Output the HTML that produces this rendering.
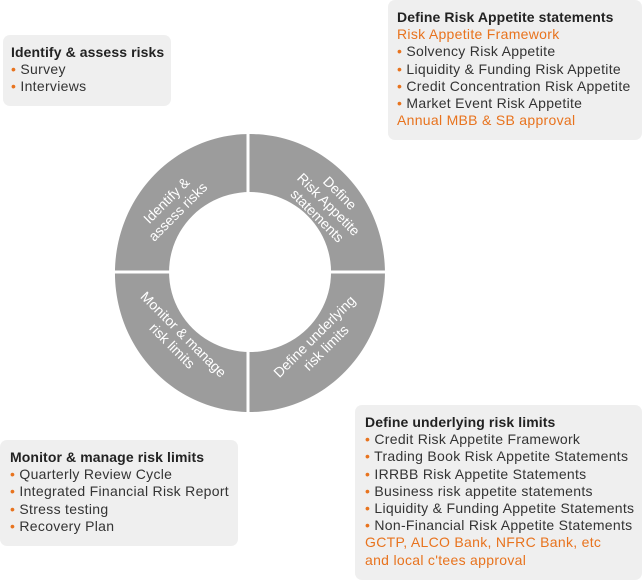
<!DOCTYPE html>
<html><head><meta charset="utf-8"><style>
body{margin:0;width:642px;height:580px;background:#fff;position:relative;overflow:hidden;font-family:"Liberation Sans",sans-serif;}
.box{position:absolute;background:#efefef;border-radius:7px;font-size:14px;letter-spacing:0.3px;line-height:17.2px;color:#333;white-space:nowrap;box-sizing:border-box;}
.box b{font-weight:bold;color:#222;letter-spacing:0.1px;}
.o{color:#e8731e;}
.d{color:#e8731e;}
</style></head><body>
<div class="box" style="left:3px;top:35px;width:168px;height:71px;padding:9px 0 0 8px;"><b>Identify &amp; assess risks</b><br><span class="d">•</span> Survey<br><span class="d">•</span> Interviews</div>
<div class="box" style="left:388px;top:0;width:254px;height:140px;padding:9px 0 0 9px;"><b>Define Risk Appetite statements</b><br><span class="o">Risk Appetite Framework</span><br><span class="d">•</span> Solvency Risk Appetite<br><span class="d">•</span> Liquidity &amp; Funding Risk Appetite<br><span class="d">•</span> Credit Concentration Risk Appetite<br><span class="d">•</span> Market Event Risk Appetite<br><span class="o">Annual MBB &amp; SB approval</span></div>
<div class="box" style="left:0;top:440px;width:238px;height:106px;padding:9px 0 0 10px;"><b>Monitor &amp; manage risk limits</b><br><span class="d">•</span> Quarterly Review Cycle<br><span class="d">•</span> Integrated Financial Risk Report<br><span class="d">•</span> Stress testing<br><span class="d">•</span> Recovery Plan</div>
<div class="box" style="left:355px;top:405px;width:287px;height:175px;padding:9px 0 0 10px;"><b>Define underlying risk limits</b><br><span class="d">•</span> Credit Risk Appetite Framework<br><span class="d">•</span> Trading Book Risk Appetite Statements<br><span class="d">•</span> IRRBB Risk Appetite Statements<br><span class="d">•</span> Business risk appetite statements<br><span class="d">•</span> Liquidity &amp; Funding Appetite Statements<br><span class="d">•</span> Non-Financial Risk Appetite Statements<br><span class="o">GCTP, ALCO Bank, NFRC Bank, etc<br>and local c'tees approval</span></div>
<svg style="position:absolute;left:0;top:0" width="642" height="580">
<path fill-rule="evenodd" fill="#9c9c9c" d="M250,134 A135,139 0 1,1 249.9,134 Z M250,192 A81,80 0 1,0 250.1,192 Z"/>
<rect x="246.5" y="130" width="3" height="290" fill="#fff"/>
<rect x="108" y="270.5" width="285" height="3" fill="#fff"/>
<g fill="#fff" font-family="Liberation Sans,sans-serif" font-size="14" text-anchor="middle">
<text transform="translate(172,206) rotate(-45)"><tspan x="0" y="-3">Identify &amp;</tspan><tspan x="0" y="13">assess risks</tspan></text>
<text transform="translate(328,205) rotate(45)"><tspan x="0" y="-12">Define</tspan><tspan x="0" y="4">Risk Appetite</tspan><tspan x="0" y="20">statements</tspan></text>
<text transform="translate(320,342) rotate(-45)"><tspan x="0" y="-3">Define underlying</tspan><tspan x="0" y="13">risk limits</tspan></text>
<text transform="translate(178,340) rotate(45)"><tspan x="0" y="-3">Monitor &amp; manage</tspan><tspan x="0" y="13">risk limits</tspan></text>
</g>
</svg>
</body></html>
